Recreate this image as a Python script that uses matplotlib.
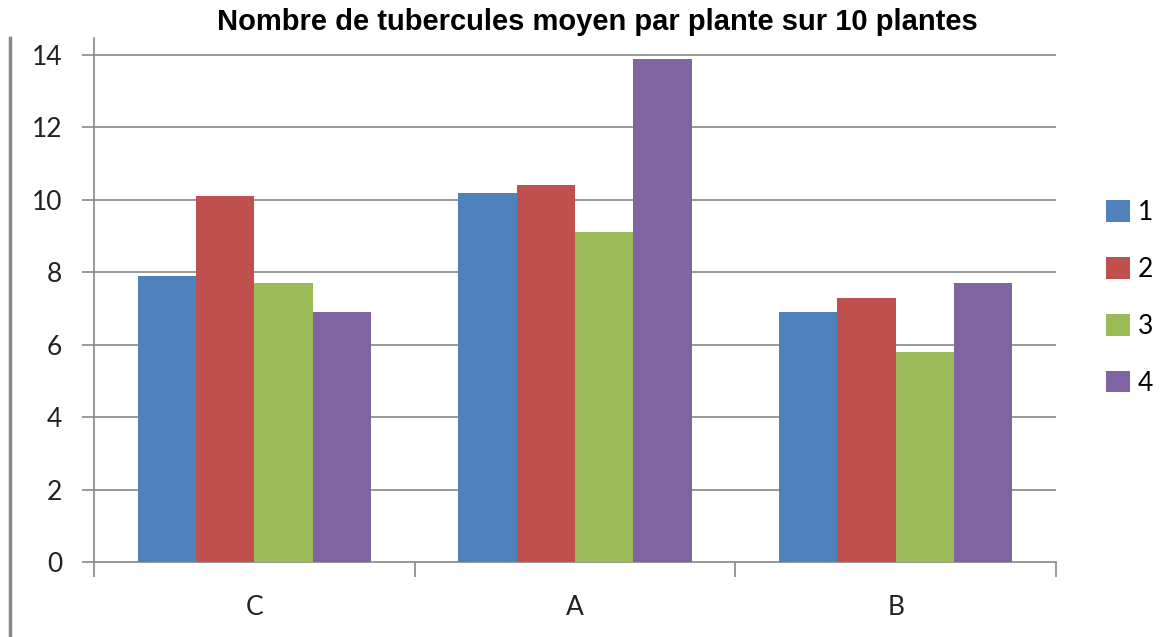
import matplotlib
matplotlib.use("Agg")
import matplotlib.pyplot as plt
from matplotlib.lines import Line2D
from matplotlib.patches import Patch
import numpy as np

categories = ["C", "A", "B"]
series_names = ["1", "2", "3", "4"]
s1 = [7.9, 10.2, 6.9]
s2 = [10.1, 10.4, 7.3]
s3 = [7.7, 9.1, 5.8]
s4 = [6.9, 13.9, 7.7]
values = [s1, s2, s3, s4]
colors = ["#4F81BD", "#C0504D", "#9BBB59", "#8064A2"]
yticks = [0, 2, 4, 6, 8, 10, 12, 14]
title = "Nombre de tubercules moyen par plante sur 10 plantes"

W, H = 1176, 637
fig = plt.figure(figsize=(W / 100, H / 100), dpi=100)
ax = fig.add_axes([94 / W, 1 - 562 / H, (1056 - 94) / W, (562 - 38) / H])

grid_c = "#888888"
bw = 1 / 5.5
x = np.arange(len(categories))
for i, (vals, c) in enumerate(zip(values, colors)):
    ax.bar(x + (i - 1.5) * bw, vals, width=bw, color=c, zorder=3, linewidth=0)

ax.set_xlim(-0.5, len(categories) - 0.5)
ax.set_ylim(0, 14 + 17 / 36.2)
for yv in yticks[1:]:
    ax.axhline(yv, color=grid_c, lw=1.2, zorder=1)

ax.set_yticks(yticks)
ax.set_yticklabels([str(v) for v in yticks], fontsize=19, family="Lato", color="#222222")
ax.set_xticks(x)
ax.set_xticklabels(categories, fontsize=19, family="Lato", color="#222222")
ax.tick_params(axis="x", length=0, pad=24)
ax.tick_params(axis="y", length=9, width=1.2, color=grid_c, pad=14)
# category boundary ticks
ax.set_xticks(np.arange(-0.5, len(categories)), minor=True)
ax.tick_params(axis="x", which="minor", length=11, width=1.2, color=grid_c)

for s in ["top", "right"]:
    ax.spines[s].set_visible(False)
for s in ["left", "bottom"]:
    ax.spines[s].set_color(grid_c)
    ax.spines[s].set_linewidth(1.2)

fig.text(597 / W, 1 - 22 / H, title, ha="center", va="center", fontsize=21,
         fontweight="bold", family="Liberation Sans")

# left border line
fig.add_artist(Line2D([10 / W, 10 / W], [0, 1 - 38 / H], color="#888888", lw=2.5,
                      transform=fig.transFigure))

handles = [Patch(facecolor=c, edgecolor="none") for c in colors]
leg = fig.legend(handles, series_names, loc="center left", bbox_to_anchor=(1082 / W, 1 - 298 / H),
                 frameon=False, prop={"family": "Lato", "size": 19}, handlelength=0.9,
                 handleheight=0.9, handletextpad=0.3, labelspacing=1.2)

fig.savefig("out.png", dpi=100)
